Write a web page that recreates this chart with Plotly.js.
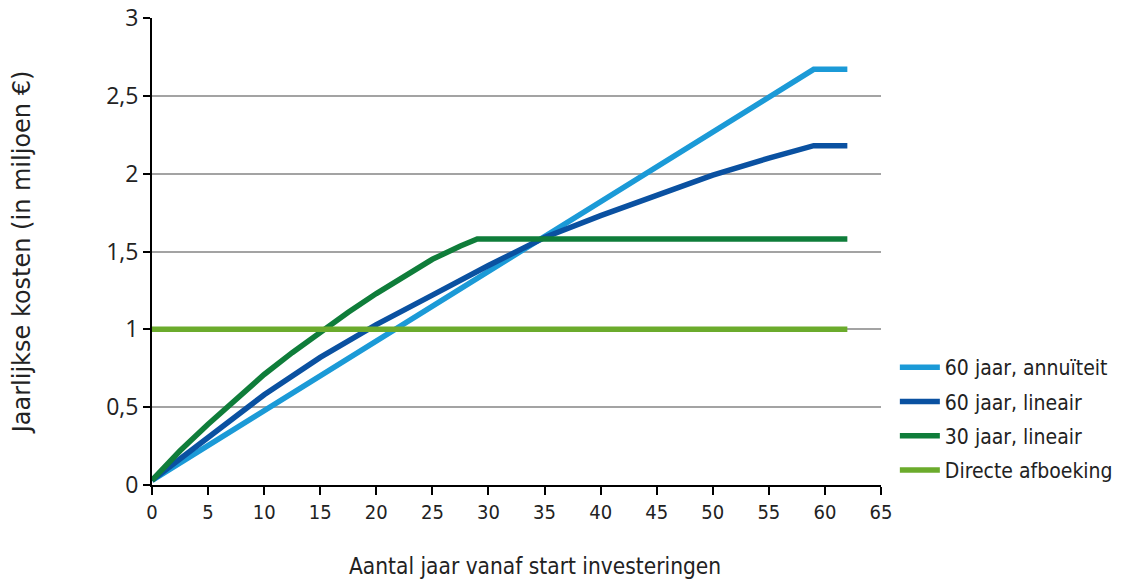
<!DOCTYPE html>
<html>
<head>
<meta charset="utf-8">
<script src="https://cdn.plot.ly/plotly-3.0.1.min.js"></script>
<style>html,body{margin:0;padding:0;background:#fff;}#chart{width:1133px;height:580px;}</style>
</head>
<body>
<div id="chart"></div>
<script>
// Data
var seriesNames = ["60 jaar, annuïteit", "60 jaar, lineair", "30 jaar, lineair", "Directe afboeking"];
var annuiteitYears = [0, 59, 62];
var annuiteitValues = [0.03, 2.67, 2.67];
var lineair60Years = [0, 5, 10, 15, 20, 25, 30, 35, 40, 45, 50, 55, 59, 62];
var lineair60Values = [0.03, 0.31, 0.58, 0.82, 1.03, 1.22, 1.41, 1.59, 1.73, 1.86, 1.99, 2.10, 2.18, 2.18];
var lineair30Years = [0, 2.5, 5, 7.5, 10, 12.5, 15, 17.5, 20, 22.5, 25, 27.5, 29, 62];
var lineair30Values = [0.03, 0.22, 0.39, 0.555, 0.71, 0.85, 0.985, 1.11, 1.23, 1.34, 1.45, 1.535, 1.58, 1.58];
var directYears = [0, 62];
var directValues = [1.0, 1.0];
var xTicks = [0, 5, 10, 15, 20, 25, 30, 35, 40, 45, 50, 55, 60, 65];
var yTicks = [0, 0.5, 1, 1.5, 2, 2.5, 3];
var colors = ["#1b9ad7", "#0a51a1", "#0f7d3a", "#6bab2c"];

var narrow = "Liberation Sans Narrow, DejaVu Sans Condensed, Arial Narrow, sans-serif";
var regular = "DejaVu Sans, Liberation Sans, sans-serif";
var tickFontY = "Open Sans, Liberation Sans, sans-serif";

var xs = [annuiteitYears, lineair60Years, lineair30Years, directYears];
var ys = [annuiteitValues, lineair60Values, lineair30Values, directValues];
var traces = [];
for (var i = 0; i < 4; i++) {
  traces.push({
    x: xs[i], y: ys[i], type: "scatter", mode: "lines",
    name: seriesNames[i], legendgroup: "g" + i,
    line: {color: colors[i], width: 5.5},
    hoverinfo: "skip"
  });
}

var layout = {
  width: 1133, height: 580,
  margin: {l: 152, r: 252, t: 18, b: 95},
  paper_bgcolor: "#ffffff", plot_bgcolor: "#ffffff",
  separators: ",.",
  showlegend: true,
  legend: {
    x: 1.019, xanchor: "left", y: -0.013, yanchor: "bottom",
    font: {family: narrow, size: 21, color: "#222"},
    tracegroupgap: 4, traceorder: "grouped",
    itemwidth: 40,
    bgcolor: "rgba(0,0,0,0)"
  },
  xaxis: {
    range: [0, 65], tickvals: xTicks, ticktext: xTicks.map(String),
    showgrid: false, zeroline: false,
    showline: true, linecolor: "#000", linewidth: 2,
    ticks: "outside", ticklen: 8, tickwidth: 2, tickcolor: "#000",
    tickfont: {family: narrow, size: 20, color: "#222"},
    fixedrange: true
  },
  yaxis: {
    range: [0, 3], tickvals: yTicks,
    showgrid: true, gridcolor: "#a3a3a3", gridwidth: 2,
    zeroline: false,
    showline: true, linecolor: "#000", linewidth: 2,
    ticks: "outside", ticklen: 7, tickwidth: 2, tickcolor: "#000",
    tickfont: {family: tickFontY, size: 23, color: "#222"},
    title: {text: "Jaarlijkse kosten (in miljoen €)", font: {family: regular, size: 24, color: "#222"}, standoff: 69},
    fixedrange: true
  },
  annotations: [{
    text: "Aantal jaar vanaf start investeringen",
    xref: "paper", yref: "paper", x: 0.5247, y: -0.1734,
    xanchor: "center", yanchor: "middle", showarrow: false,
    font: {family: narrow, size: 22.5, color: "#222"}
  }]
};

Plotly.newPlot("chart", traces, layout, {displayModeBar: false, staticPlot: true});
</script>
</body>
</html>
